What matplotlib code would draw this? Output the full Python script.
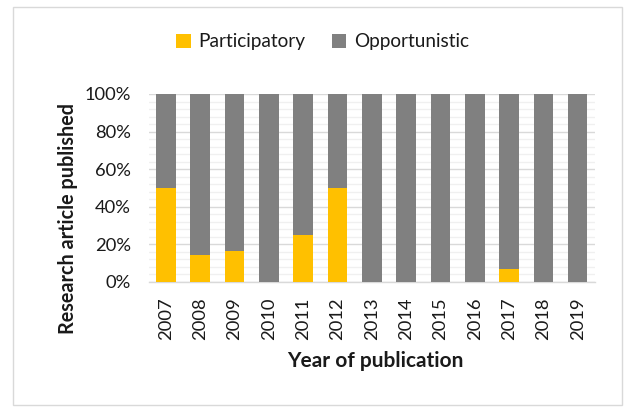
import matplotlib
matplotlib.use("Agg")
import matplotlib.pyplot as plt
from matplotlib.patches import Rectangle
from matplotlib.ticker import MultipleLocator, PercentFormatter

plt.rcParams['font.family'] = ['Lato', 'DejaVu Sans']

years = ["2007", "2008", "2009", "2010", "2011", "2012", "2013",
         "2014", "2015", "2016", "2017", "2018", "2019"]
participatory = [50.0, 14.3, 16.7, 0.0, 25.0, 50.0, 0.0,
                 0.0, 0.0, 0.0, 6.7, 0.0, 0.0]
opportunistic = [100 - p for p in participatory]

YELLOW = "#FFC000"
GREY = "#808080"
TEXT = "#1a1a1a"

fig = plt.figure(figsize=(6.24, 4.07), dpi=100)
ax = fig.add_axes([148.8 / 624, 1 - 282 / 407, 446 / 624, 188 / 407])

x = range(len(years))
ax.bar(x, participatory, width=0.57, color=YELLOW, label="Participatory", zorder=3)
ax.bar(x, opportunistic, width=0.57, bottom=participatory, color=GREY,
       label="Opportunistic", zorder=3)

ax.set_xlim(-0.5, len(years) - 0.5)
ax.set_ylim(0, 100)
ax.yaxis.set_major_locator(MultipleLocator(20))
ax.yaxis.set_minor_locator(MultipleLocator(4))
ax.yaxis.set_major_formatter(PercentFormatter(decimals=0))
ax.grid(axis="y", which="major", color="#d9d9d9", linewidth=1.0, zorder=0)
ax.grid(axis="y", which="minor", color="#f0f0f0", linewidth=1.0, zorder=0)
ax.set_axisbelow(True)

for side in ("top", "right", "left"):
    ax.spines[side].set_visible(False)
ax.spines["bottom"].set_color("#d9d9d9")
ax.spines["bottom"].set_linewidth(1.0)

ax.set_xticks(list(x))
ax.set_xticklabels(years, rotation=90, fontsize=13.2, color=TEXT)
ax.tick_params(axis="y", which="both", length=0, labelsize=13.2, labelcolor=TEXT, pad=13)
ax.tick_params(axis="x", length=0, pad=11)

ax.set_ylabel("Research article published", fontsize=14.2, fontweight="bold",
              color=TEXT, va="center", ha="center")
ax.yaxis.set_label_coords(-0.181, 0.34)
ax.set_xlabel("Year of publication", fontsize=15, fontweight="bold",
              color=TEXT, va="center", ha="center")
ax.xaxis.set_label_coords(0.508, -0.42)

fig.legend(loc="center", bbox_to_anchor=(0.517, 1 - 42 / 407), ncol=2, frameon=False,
           fontsize=13.7, handlelength=0.75, handleheight=0.75, handletextpad=0.4,
           columnspacing=1.4, labelcolor=TEXT)

fig.patches.append(Rectangle((13 / 624, 2 / 407), 609 / 624, 398 / 407,
                             transform=fig.transFigure, fill=False,
                             edgecolor="#d9d9d9", linewidth=1.0))

fig.savefig("out.png", dpi=100)
